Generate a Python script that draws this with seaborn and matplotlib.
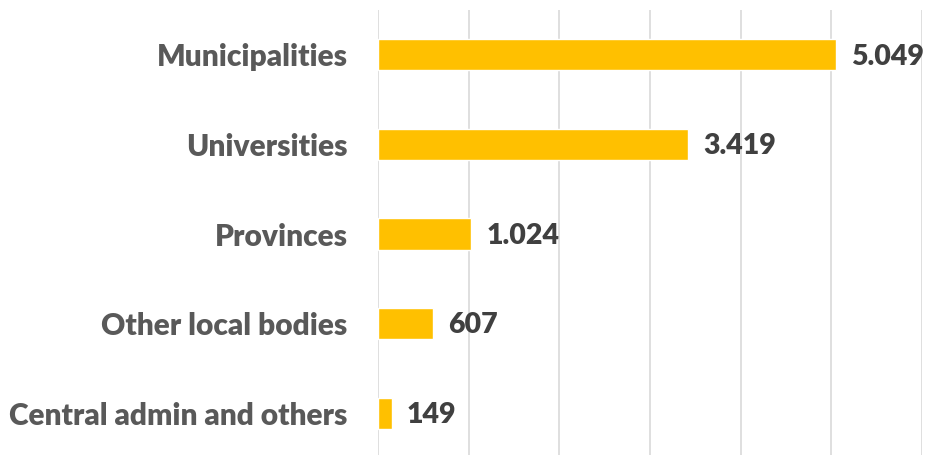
import matplotlib
matplotlib.use("Agg")
import matplotlib.pyplot as plt
import seaborn as sns
import pandas as pd

# values
categories = ["Municipalities", "Universities", "Provinces", "Other local bodies", "Central admin and others"]
values = [5049, 3419, 1024, 607, 149]
value_labels = ["5.049", "3.419", "1.024", "607", "149"]

sns.set_style("white")
plt.rcParams["font.family"] = ["Lato", "DejaVu Sans"]

df = pd.DataFrame({"category": categories, "value": values})

fig = plt.figure(figsize=(9.32, 4.55), dpi=100)
ax = fig.add_axes([378 / 932, -3 / 455, (922 - 378) / 932, 448 / 455])

sns.barplot(data=df, y="category", x="value", color="#FFC000", saturation=1,
            width=0.35, orient="h", ax=ax)

ax.set_xlim(0, 6000)
ax.set_ylim(4.5, -0.5)
ax.set_xticks(range(0, 7000, 1000))
ax.xaxis.grid(True, color="#D9D9D9", linewidth=1.2)
ax.set_axisbelow(True)
ax.tick_params(axis="x", labelbottom=False, length=0)
ax.tick_params(axis="y", length=0, pad=22)
for lbl in ax.get_yticklabels():
    lbl.set_fontsize(21.5)
    lbl.set_fontweight("heavy")
    lbl.set_color("#595959")
ax.set_xlabel("")
ax.set_ylabel("")
for s in ax.spines.values():
    s.set_visible(False)

for i, (v, t) in enumerate(zip(values, value_labels)):
    ax.text(v + 170, i + 0.02, t, va="center", ha="left", fontsize=20.5,
            fontweight="heavy", color="#404040")

fig.savefig("out.png", dpi=100)
